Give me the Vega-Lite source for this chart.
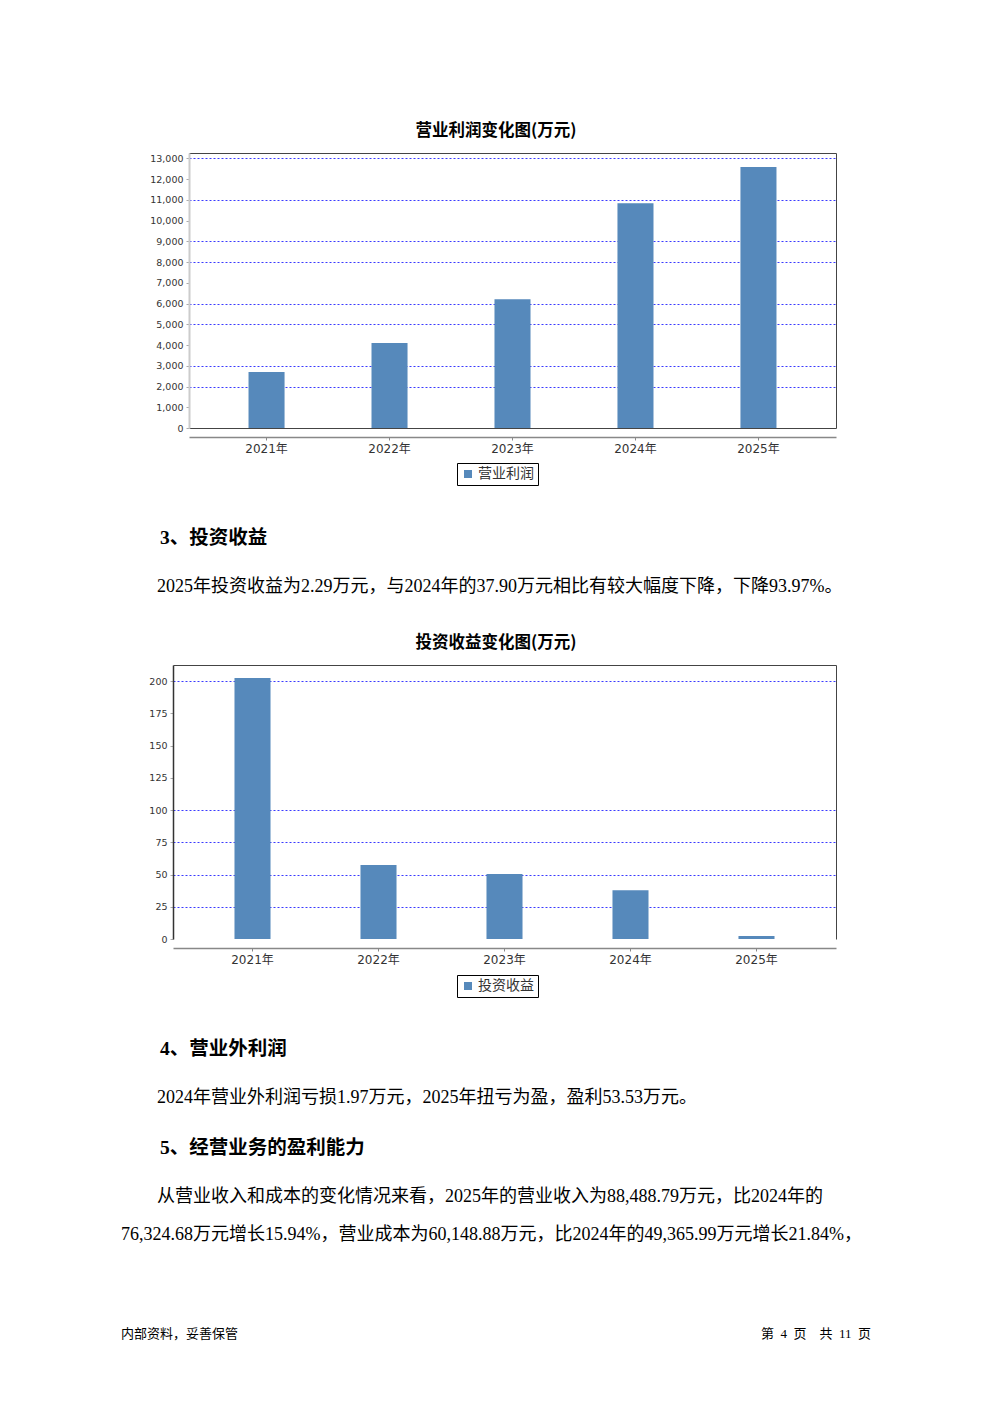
{
  "$schema": "https://vega.github.io/schema/vega-lite/v6.json",
  "padding": {"left": 121, "top": 122, "right": 0, "bottom": 0},
  "spacing": 0,
  "bounds": "flush",
  "resolve": {"scale": {"color": "independent"}, "legend": {"color": "independent"}},
  "config": {
    "view": {"stroke": null},
    "text": {"font": "Liberation Serif, Noto Sans CJK SC", "color": "#000"}
  },
  "vconcat": [
    {
      "width": 750,
      "height": 275,
      "title": {"text": "营业利润变化图(万元)", "font": "Noto Sans CJK SC", "fontSize": 16.5, "fontWeight": "bold", "color": "#000", "offset": 14, "anchor": "middle"},
      "data": {"values": [
        {"year": "2021年", "value": 2701, "series": "营业利润"},
        {"year": "2022年", "value": 4100, "series": "营业利润"},
        {"year": "2023年", "value": 6207, "series": "营业利润"},
        {"year": "2024年", "value": 10838, "series": "营业利润"},
        {"year": "2025年", "value": 12589, "series": "营业利润"}
      ]},
      "layer": [
        {
          "mark": {"type": "bar"},
          "encoding": {
            "x": {"field": "year", "type": "nominal", "sort": null,
              "scale": {"range": [68, 715], "paddingInner": 0.707, "paddingOuter": 0.484},
              "axis": {"title": null, "orient": "bottom", "offset": 9, "labelAngle": 0, "labelFont": "DejaVu Sans, Noto Sans CJK SC", "labelFontSize": 12, "labelColor": "#333", "labelPadding": 3, "tickSize": 3, "tickColor": "#888", "domainColor": "#888", "domainWidth": 1.5, "grid": false}},
            "y": {"field": "value", "type": "quantitative",
              "scale": {"domain": [0, 13264], "nice": false},
              "axis": {"title": null, "orient": "left", "offset": -68, "values": [0, 1000, 2000, 3000, 4000, 5000, 6000, 7000, 8000, 9000, 10000, 11000, 12000, 13000, 13264], "format": ",d",
                "labelExpr": "datum.value === 13264 ? '' : datum.label",
                "labelFont": "DejaVu Sans", "labelFontSize": 9.5, "labelColor": "#333", "labelPadding": 3, "tickSize": 3, "tickColor": "#aaa",
                "tickOpacity": {"condition": {"test": "datum.value === 13264", "value": 0}, "value": 1},
                "domainColor": "#cccccc", "domainWidth": 2, "grid": true, "gridWidth": 1,
                "gridColor": {"condition": {"test": "datum.value === 0 || datum.value === 13264", "value": "#444444"}, "value": "#3a3aff"},
                "gridDash": {"condition": {"test": "datum.value === 0 || datum.value === 13264", "value": []}, "value": [2, 2]},
                "gridOpacity": {"condition": {"test": "indexof([0,2000,3000,5000,6000,8000,9000,11000,13000,13264], datum.value) >= 0", "value": 1}, "value": 0}}},
            "color": {"field": "series", "type": "nominal", "scale": {"range": ["#5689bb"]},
              "legend": {"title": null, "orient": "none", "legendX": 336, "legendY": 310, "symbolType": "square", "symbolSize": 64, "symbolStrokeWidth": 0, "labelFont": "Noto Sans CJK SC", "labelFontSize": 14, "labelColor": "#333", "strokeColor": "#000", "padding": 4, "labelOffset": 3}}
          }
        },
        {
          "mark": {"type": "bar", "fillOpacity": 0},
          "encoding": {
            "x": {"field": "year", "type": "nominal", "sort": null},
            "y": {"field": "value", "type": "quantitative",
              "axis": {"title": null, "orient": "right", "offset": -35, "labels": false, "ticks": false, "domain": true, "domainColor": "#444", "domainWidth": 1, "grid": false}}
          }
        }
      ],
      "resolve": {"axis": {"y": "independent"}}
    },
    {
      "width": 750,
      "height": 237,
      "data": {"values": [
        {"text": "3、投资收益", "line": 1, "indent": 2, "kind": "heading"},
        {"text": "2025年投资收益为2.29万元，与2024年的37.90万元相比有较大幅度下降，下降93.97%。", "line": 2, "indent": 2, "kind": "body"}
      ]},
      "encoding": {
        "x": {"field": "indent", "type": "quantitative", "scale": {"domain": [0, 41.667], "nice": false, "zero": false}, "axis": null},
        "y": {"field": "line", "type": "quantitative", "scale": {"domain": [-1.2449, 3.5918], "reverse": true, "nice": false, "zero": false}, "axis": null},
        "text": {"field": "text"}
      },
      "layer": [
        {"transform": [{"filter": "datum.kind === 'heading'"}], "mark": {"type": "text", "align": "left", "fontSize": 19.5, "fontWeight": "bold", "dx": 3}},
        {"transform": [{"filter": "datum.kind === 'body'"}], "mark": {"type": "text", "align": "left", "fontSize": 18}}
      ]
    },
    {
      "width": 750,
      "height": 274,
      "title": {"text": "投资收益变化图(万元)", "font": "Noto Sans CJK SC", "fontSize": 16.5, "fontWeight": "bold", "color": "#000", "offset": 14, "anchor": "middle"},
      "data": {"values": [
        {"year": "2021年", "value": 202.4, "series": "投资收益"},
        {"year": "2022年", "value": 57.4, "series": "投资收益"},
        {"year": "2023年", "value": 50.4, "series": "投资收益"},
        {"year": "2024年", "value": 37.9, "series": "投资收益"},
        {"year": "2025年", "value": 2.29, "series": "投资收益"}
      ]},
      "layer": [
        {
          "mark": {"type": "bar"},
          "encoding": {
            "x": {"field": "year", "type": "nominal", "sort": null,
              "scale": {"range": [52, 715], "paddingInner": 0.714, "paddingOuter": 0.488},
              "axis": {"title": null, "orient": "bottom", "offset": 9, "labelAngle": 0, "labelFont": "DejaVu Sans, Noto Sans CJK SC", "labelFontSize": 12, "labelColor": "#333", "labelPadding": 3, "tickSize": 3, "tickColor": "#888", "domainColor": "#888", "domainWidth": 1.5, "grid": false}},
            "y": {"field": "value", "type": "quantitative",
              "scale": {"domain": [0, 212.5], "nice": false},
              "axis": {"title": null, "orient": "left", "offset": -52, "values": [0, 25, 50, 75, 100, 125, 150, 175, 200, 212.5],
                "labelExpr": "datum.value === 212.5 ? '' : datum.label",
                "labelFont": "DejaVu Sans", "labelFontSize": 9.5, "labelColor": "#333", "labelPadding": 3, "tickSize": 3, "tickColor": "#aaa",
                "tickOpacity": {"condition": {"test": "datum.value === 212.5", "value": 0}, "value": 1},
                "domainColor": "#333", "domainWidth": 1.5, "grid": true, "gridWidth": 1,
                "gridColor": {"condition": {"test": "datum.value === 212.5", "value": "#444444"}, "value": "#3a3aff"},
                "gridDash": {"condition": {"test": "datum.value === 212.5", "value": []}, "value": [2, 2]},
                "gridOpacity": {"condition": {"test": "indexof([25,50,75,100,200,212.5], datum.value) >= 0", "value": 1}, "value": 0}}},
            "color": {"field": "series", "type": "nominal", "scale": {"range": ["#5689bb"]},
              "legend": {"title": null, "orient": "none", "legendX": 336, "legendY": 310, "symbolType": "square", "symbolSize": 64, "symbolStrokeWidth": 0, "labelFont": "Noto Sans CJK SC", "labelFontSize": 14, "labelColor": "#333", "strokeColor": "#000", "padding": 4, "labelOffset": 3}}
          }
        },
        {
          "mark": {"type": "bar", "fillOpacity": 0},
          "encoding": {
            "x": {"field": "year", "type": "nominal", "sort": null},
            "y": {"field": "value", "type": "quantitative",
              "axis": {"title": null, "orient": "right", "offset": -35, "labels": false, "ticks": false, "domain": true, "domainColor": "#444", "domainWidth": 1, "grid": false}}
          }
        }
      ],
      "resolve": {"axis": {"y": "independent"}}
    },
    {
      "width": 750,
      "height": 277,
      "data": {"values": [
        {"text": "4、营业外利润", "line": 1, "indent": 2, "kind": "heading"},
        {"text": "2024年营业外利润亏损1.97万元，2025年扭亏为盈，盈利53.53万元。", "line": 2, "indent": 2, "kind": "body"},
        {"text": "5、经营业务的盈利能力", "line": 3, "indent": 2, "kind": "heading"},
        {"text": "从营业收入和成本的变化情况来看，2025年的营业收入为88,488.79万元，比2024年的", "line": 4, "indent": 2, "kind": "body"}
      ]},
      "encoding": {
        "x": {"field": "indent", "type": "quantitative", "scale": {"domain": [0, 41.667], "nice": false, "zero": false}, "axis": null},
        "y": {"field": "line", "type": "quantitative", "scale": {"domain": [-1.2298, 4.3853], "reverse": true, "nice": false, "zero": false}, "axis": null},
        "text": {"field": "text"}
      },
      "layer": [
        {"transform": [{"filter": "datum.kind === 'heading'"}], "mark": {"type": "text", "align": "left", "fontSize": 19.5, "fontWeight": "bold", "dx": 3}},
        {"transform": [{"filter": "datum.kind === 'body'"}], "mark": {"type": "text", "align": "left", "fontSize": 18}}
      ]
    },
    {
      "width": 750,
      "height": 188,
      "data": {"values": [
        {"text": "76,324.68万元增长15.94%，营业成本为60,148.88万元，比2024年的49,365.99万元增长21.84%，", "line": 1, "indent": 0, "kind": "body"},
        {"text": "内部资料，妥善保管", "line": 2, "indent": 0, "kind": "footer"},
        {"text": "第\u00a0\u00a04\u00a0\u00a0页\u00a0\u00a0\u00a0\u00a0共\u00a0\u00a011\u00a0\u00a0页", "line": 2, "indent": 0, "kind": "footer-right"}
      ]},
      "encoding": {
        "x": {"field": "indent", "type": "quantitative", "scale": {"domain": [0, 41.667], "nice": false, "zero": false}, "axis": null},
        "y": {"field": "line", "type": "quantitative", "scale": {"domain": [0.8081, 2.7071], "reverse": true, "nice": false, "zero": false}, "axis": null},
        "text": {"field": "text"}
      },
      "layer": [
        {"transform": [{"filter": "datum.kind === 'body'"}], "mark": {"type": "text", "align": "left", "fontSize": 18}},
        {"transform": [{"filter": "datum.kind === 'footer'"}], "mark": {"type": "text", "align": "left", "fontSize": 13}},
        {"transform": [{"filter": "datum.kind === 'footer-right'"}], "mark": {"type": "text", "align": "right", "fontSize": 13}, "encoding": {"x": {"value": "width"}}}
      ]
    }
  ]
}
